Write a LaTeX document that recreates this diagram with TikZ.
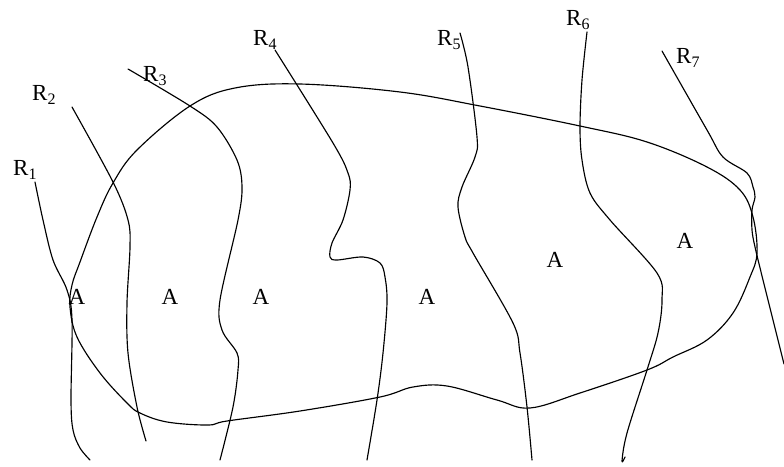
\documentclass[tikz,border=0pt]{standalone}
\usepackage{fontspec}
\setmainfont{Liberation Serif}
\newcommand{\rlab}[1]{R\raisebox{-4pt}{\fontsize{16}{16}\selectfont #1}}
\begin{document}
\begin{tikzpicture}[x=1pt,y=-1pt,
  curve/.style={line width=1.15pt, line join=round, line cap=round},
  lab/.style={font=\fontsize{23}{26}\selectfont, inner sep=0pt}]
\useasboundingbox (0,0) rectangle (784,466);
% labels
\node[lab, anchor=base west] (r1) at (13,175) {\rlab{1}};
\node[lab, anchor=base west] (r2) at (32,100) {\rlab{2}};
\node[lab, anchor=base west] (r3) at (143,81) {\rlab{3}};
\node[lab, anchor=base west] (r4) at (253,45) {\rlab{4}};
\node[lab, anchor=base west] (r5) at (437,45) {\rlab{5}};
\node[lab, anchor=base west] (r6) at (566,25) {\rlab{6}};
\node[lab, anchor=base west] (r7) at (676,63) {\rlab{7}};
\node[lab, anchor=base] (a1) at (77,304) {A};
\node[lab, anchor=base] (a2) at (170,304) {A};
\node[lab, anchor=base] (a3) at (261,304) {A};
\node[lab, anchor=base] (a4) at (427,304) {A};
\node[lab, anchor=base] (a5) at (555,267) {A};
\node[lab, anchor=base] (a6) at (685,248) {A};
% closed region
\draw[curve] plot[smooth cycle, tension=0.6] coordinates {
  (300,84) (400,92) (480,106) (580,126) (647,142) (707,167)
  (740,190) (753,217) (757,253) (750,277) (733,313) (707,340) (673,357)
  (647,370) (580,393) (530,408) (497,400) (447,386) (413,387) (380,397)
  (300,411) (227,421) (208,425) (167,422) (140,413) (127,403) (100,373)
  (77,337) (70,307) (72,285) (80,262) (97,217) (113,183) (137,150)
  (190,106) (235,88)};
% rays
\draw[curve] plot[smooth, tension=0.55] coordinates {
  (35,182) (43,220) (53,260) (67,290) (72,320) (71,400) (73,430) (80,448) (90,460)};
\draw[curve] plot[smooth, tension=0.55] coordinates {
  (72,107) (113,182) (128,220) (130,247) (127,303) (128,353) (137,407) (146,441)};
\draw[curve] plot[smooth, tension=0.55] coordinates {
  (128,69) (190,106) (217,127) (237,160) (242,187) (238,220) (220,300)
  (222,330) (237,353) (238,370) (233,407) (220,460)};
\draw[curve] plot[smooth, tension=0.55] coordinates {
  (275,50) (333,143) (348,173) (350,190) (343,220) (332,243) (330,257)
  (337,260) (363,257) (380,263) (385,277) (387,303) (383,353) (377,400) (367,460)};
\draw[curve] plot[smooth, tension=0.55] coordinates {
  (460,33) (468,67) (477,137) (475,157) (462,187) (458,207) (465,237)
  (473,253) (513,323) (520,353) (527,407) (532,460)};
\draw[curve] plot[smooth, tension=0.55] coordinates {
  (587,32) (582,80) (580,127) (582,160) (590,193) (610,220) (657,273)
  (662,300) (658,333) (647,370) (627,433) (622,461) (625,457)};
\draw[curve] plot[smooth, tension=0.55] coordinates {
  (662,51) (707,130) (723,157) (747,173) (753,187) (755,197) (752,210)
  (752,230) (755,247) (763,280) (773,320) (784,364)};
\end{tikzpicture}
\end{document}
